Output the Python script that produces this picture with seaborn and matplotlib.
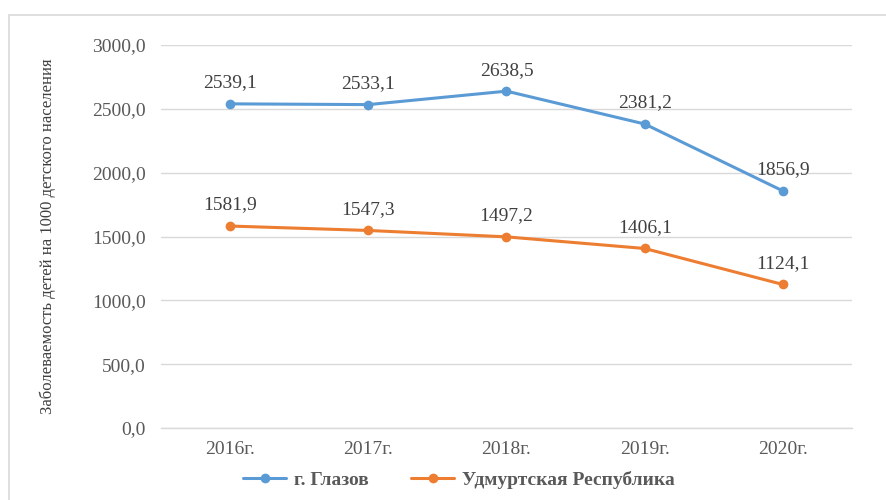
import matplotlib
matplotlib.use("Agg")
import matplotlib.pyplot as plt
import matplotlib.patches as mpatches
import seaborn as sns
import pandas as pd

years = ["2016г.", "2017г.", "2018г.", "2019г.", "2020г."]
glazov = [2539.1, 2533.1, 2638.5, 2381.2, 1856.9]
udmurtia = [1581.9, 1547.3, 1497.2, 1406.1, 1124.1]
series_names = ["г. Глазов", "Удмуртская Республика"]
y_ticks = [0, 500, 1000, 1500, 2000, 2500, 3000]
y_label = "Заболеваемость детей на 1000 детского населения"

colors = ["#5B9BD5", "#ED7D31"]

df = pd.DataFrame({
    "year": years * 2,
    "value": glazov + udmurtia,
    "series": [series_names[0]] * len(years) + [series_names[1]] * len(years),
})

sns.set_style("white")
plt.rcParams["font.family"] = ["Liberation Serif", "DejaVu Serif"]

fig = plt.figure(figsize=(8.87, 5.0), dpi=100)
ax = fig.add_axes([161 / 887, 1 - 428 / 500, (852 - 161) / 887, (428 - 45) / 500])

sns.lineplot(data=df, x="year", y="value", hue="series", palette=colors,
             marker="o", markersize=7, markeredgewidth=0, linewidth=2.2,
             sort=False, ax=ax, legend=False)

ax.set_xlim(-0.5, len(years) - 0.5)
ax.set_ylim(0, 3000)
ax.set_yticks(y_ticks)
ax.set_yticklabels([f"{v:.1f}".replace(".", ",") for v in y_ticks])
ax.yaxis.grid(True, color="#d9d9d9", linewidth=1)
ax.xaxis.grid(False)
for s in ["top", "right", "left"]:
    ax.spines[s].set_visible(False)
ax.spines["bottom"].set_color("#d9d9d9")
ax.spines["bottom"].set_linewidth(1)
ax.tick_params(axis="both", length=0, labelsize=14, labelcolor="#595959")
ax.tick_params(axis="y", pad=11)
ax.tick_params(axis="x", pad=9)
ax.set_xlabel("")
ax.set_ylabel("")

for vals in (glazov, udmurtia):
    for i, v in enumerate(vals):
        ax.annotate(f"{v:.1f}".replace(".", ","), (i, v), xytext=(0, 9),
                    textcoords="offset points", ha="center", va="bottom",
                    fontsize=14, color="#404040")

fig.text(48 / 887, 1 - 236 / 500, y_label, rotation=90, ha="center", va="center",
         fontsize=12, color="#404040")

handles = [plt.Line2D([], [], color=c, marker="o", markersize=7, linewidth=2.2,
                      markeredgewidth=0) for c in colors]
fig.legend(handles, series_names, loc="center", bbox_to_anchor=(459 / 887, 1 - 480 / 500),
           ncol=2, frameon=False, handlelength=2.2, handletextpad=0.4, columnspacing=2.2,
           prop={"family": "Liberation Serif", "weight": "bold", "size": 14},
           labelcolor="#595959")

fig.patches.append(mpatches.Rectangle((9 / 887, -0.01), 1.0, 1 - 15 / 500 + 0.01,
                                      transform=fig.transFigure, fill=False,
                                      edgecolor="#d9d9d9", linewidth=1.2))

fig.savefig("out.png", dpi=100)
